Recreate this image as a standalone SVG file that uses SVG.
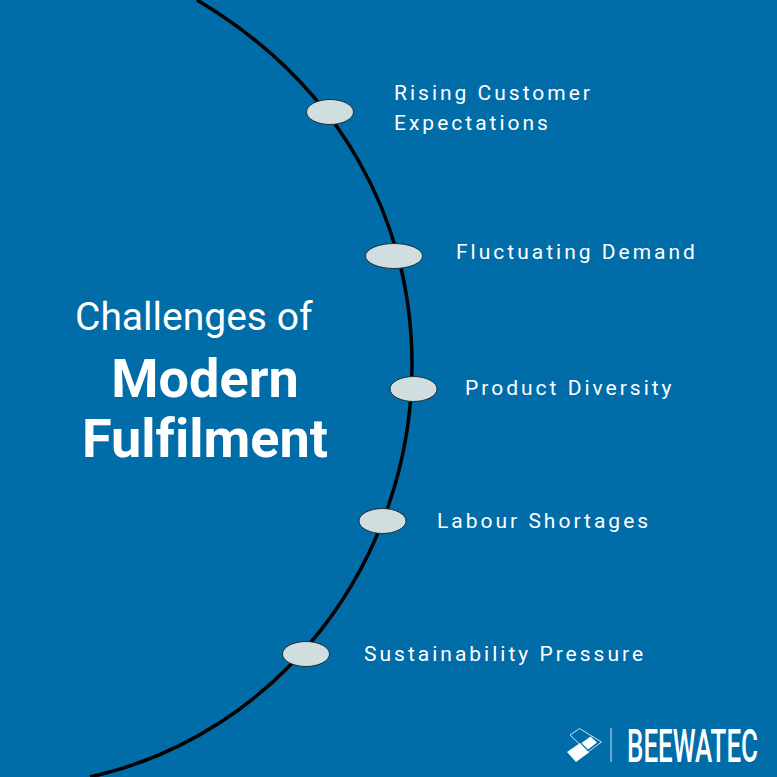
<svg xmlns="http://www.w3.org/2000/svg" width="777" height="777" viewBox="0 0 777 777">
<style>
.l{font-family:Roboto,"Liberation Sans",sans-serif;font-size:21px;letter-spacing:3px;fill:#fff}
.n{fill:#d0dedf;stroke:#1c2f3a;stroke-width:1}
.t{font-family:Roboto,"Liberation Sans",sans-serif;fill:#fff;font-variant-ligatures:none}
</style>
<rect width="777" height="777" fill="#006ca8"/>
<g id="connectors"><path d="M197 0C340 85 412 220 412 365C412 560 280 735 90 777" fill="none" stroke="#000" stroke-width="3.500"/></g>
<g id="title"><text class="t" x="75" y="330" font-size="39">Challenges of</text>
<text class="t" x="205" y="397" font-size="54" font-weight="700" text-anchor="middle">Modern</text>
<text class="t" x="205" y="457" font-size="54" font-weight="700" text-anchor="middle">Fulfilment</text></g>
<g id="n1"><ellipse class="n" cx="330" cy="112" rx="23.500" ry="12.500"/><text class="l" x="394" y="100">Rising Customer</text><text class="l" x="394" y="130">Expectations</text></g>
<g id="n2"><ellipse class="n" cx="394" cy="256" rx="28.500" ry="12.500"/><text class="l" x="456" y="259">Fluctuating Demand</text></g>
<g id="n3"><ellipse class="n" cx="413.500" cy="389" rx="23.500" ry="12.500"/><text class="l" x="465" y="395">Product Diversity</text></g>
<g id="n4"><ellipse class="n" cx="382.500" cy="521" rx="23.500" ry="12.500"/><text class="l" x="437" y="528">Labour Shortages</text></g>
<g id="n5"><ellipse class="n" cx="306" cy="654" rx="23.500" ry="12.500"/><text class="l" x="364" y="661">Sustainability Pressure</text></g>
<g id="logo"><path d="M579.500 728.500L601.500 742L588 752L570 735Z" fill="none" stroke="#cfe3ef" stroke-width="1"/><path d="M590.500 736.500L597 742.500L588 749.500L581.500 743Z" fill="#fff"/><path d="M580 743L589 752.500L576 762L567 752Z" fill="#fff"/><path d="M611 728V762" stroke="#cfe3ef" stroke-width="1"/><text class="t" transform="translate(627 762) scale(.552 1)" font-size="47" font-weight="500">BEEWATEC</text></g>
</svg>
